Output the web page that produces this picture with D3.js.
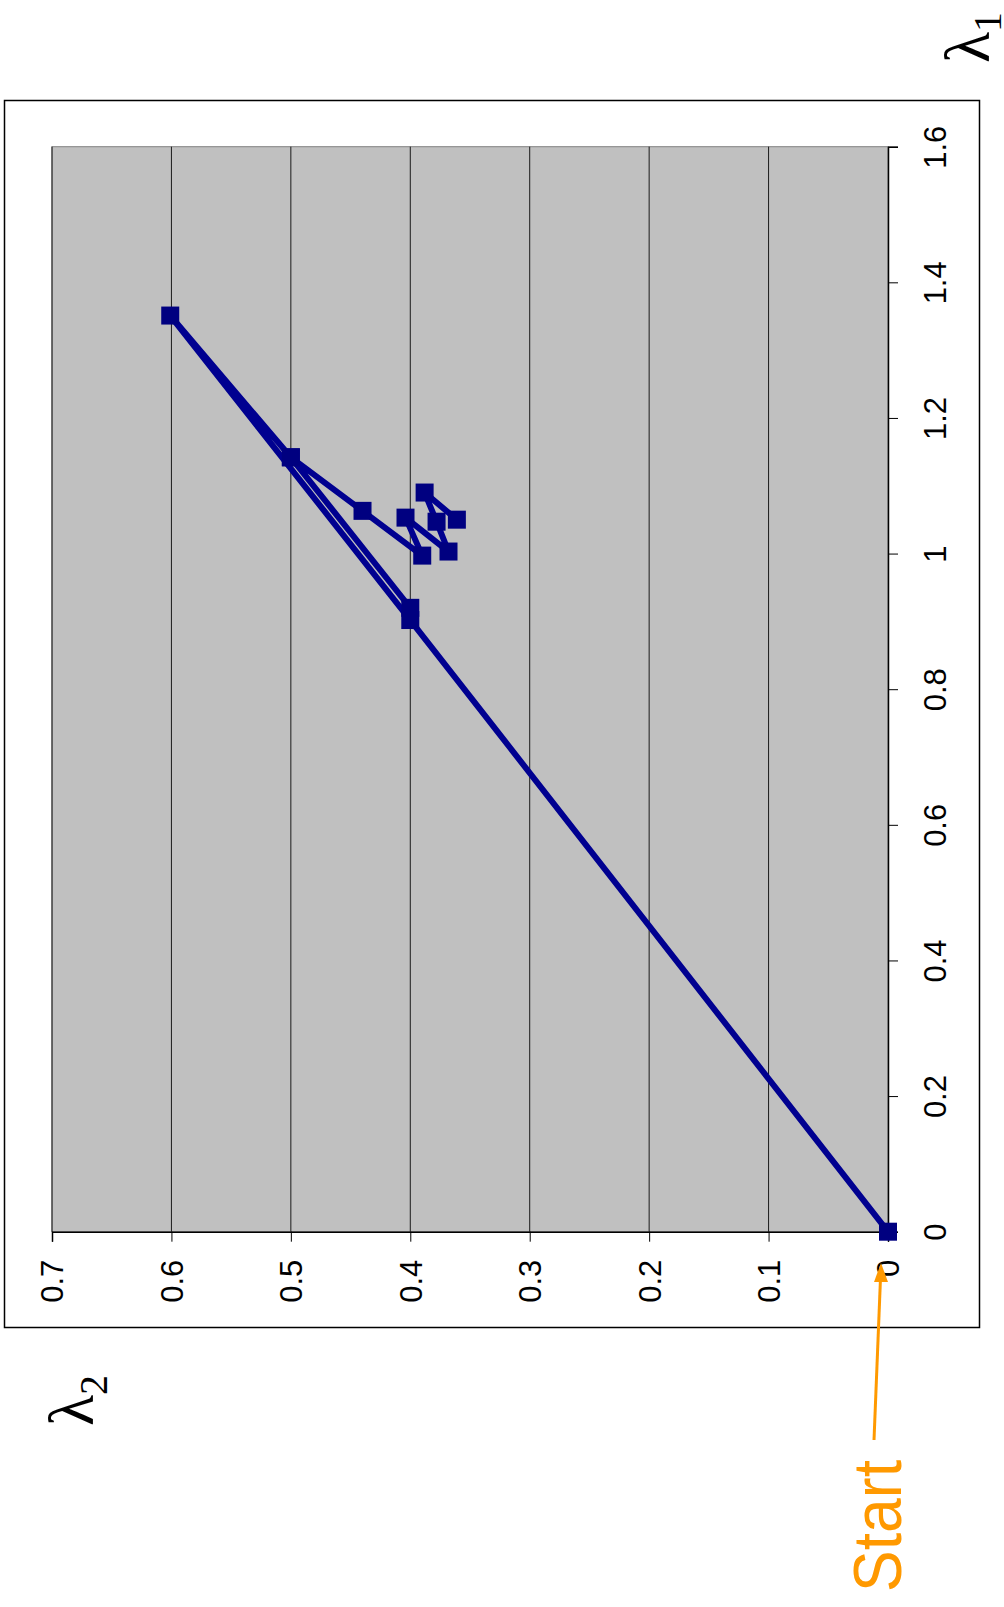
<!doctype html>
<html>
  <head>
    <script src="https://cdnjs.cloudflare.com/ajax/libs/d3/7.8.5/d3.min.js"></script>
    <style>
      body { margin: 0; background: #fff; }
    </style>
  </head>
  <body>
    <svg style="height: 1607px; width: 1004px;"></svg>
    <script>
        // iteration path, lambda1 (horizontal in the original chart) and lambda2
        var lambda1 = [0, 0.902, 1.351, 1.142, 0.920, 1.142, 1.063, 0.997, 1.053, 1.003, 1.047, 1.090, 1.050];
        var lambda2 = [0, 0.400, 0.601, 0.500, 0.400, 0.500, 0.440, 0.390, 0.404, 0.368, 0.378, 0.388, 0.361];
        var lambda1Ticks = [0, 0.2, 0.4, 0.6, 0.8, 1, 1.2, 1.4, 1.6];
        var lambda2Ticks = [0, 0.1, 0.2, 0.3, 0.4, 0.5, 0.6, 0.7];

        var points = lambda1.map((v, i) => ({l1: v, l2: lambda2[i]}));

        var svg = d3.select("svg");

        // the whole chart is turned a quarter turn: lambda1 runs up the page, lambda2 runs to the left
        var yScale = d3.scaleLinear().domain([0, 1.6]).range([1231.7, 146.7]);
        var xScale = d3.scaleLinear().domain([0, 0.7]).range([888, 52]);

        // outer chart frame
        svg.append("rect")
            .attr("x", 4.5).attr("y", 100.5)
            .attr("width", 975).attr("height", 1227)
            .style("fill", "#fff").style("stroke", "#000").style("stroke-width", "1.5px");

        // plot area
        svg.append("rect")
            .attr("x", xScale(0.7)).attr("y", yScale(1.6))
            .attr("width", xScale(0) - xScale(0.7)).attr("height", yScale(0) - yScale(1.6))
            .style("fill", "#c0c0c0").style("stroke", "#808080").style("stroke-width", "1px");

        // grid lines at lambda2 values
        svg.append("g").selectAll("line")
            .data(lambda2Ticks.slice(1))
            .enter().append("line")
            .attr("x1", d => xScale(d)).attr("x2", d => xScale(d))
            .attr("y1", yScale(1.6)).attr("y2", yScale(0))
            .style("stroke", "#1a1a1a").style("stroke-width", "1px");

        // lambda1 axis (right side)
        var l1Axis = d3.axisRight(yScale).tickValues(lambda1Ticks).tickSize(10).tickFormat(d3.format("~g"));
        var g1 = svg.append("g").attr("transform", "translate(888,0)").call(l1Axis);
        g1.select(".domain").style("stroke", "#000").style("stroke-width", "1.5px");
        g1.selectAll(".tick line").style("stroke", "#000");
        g1.selectAll(".tick text")
            .attr("x", null).attr("y", null).attr("dy", "0.35em")
            .attr("transform", "translate(47,0) rotate(-90)")
            .style("text-anchor", "middle")
            .style("font-family", "Arial, 'Liberation Sans', sans-serif")
            .style("font-size", "31px").style("fill", "#000");

        // lambda2 axis (bottom)
        var l2Axis = d3.axisBottom(xScale).tickValues(lambda2Ticks).tickSize(10).tickFormat(d3.format("~g"));
        var g2 = svg.append("g").attr("transform", "translate(0,1231.7)").call(l2Axis);
        g2.select(".domain").style("stroke", "#000").style("stroke-width", "1.5px");
        g2.selectAll(".tick line").style("stroke", "#000");
        g2.selectAll(".tick text")
            .attr("x", null).attr("y", null).attr("dy", "0.35em")
            .attr("transform", "translate(0,28) rotate(-90)")
            .style("text-anchor", "end")
            .style("font-family", "Arial, 'Liberation Sans', sans-serif")
            .style("font-size", "31px").style("fill", "#000");

        // path
        var dataLine = d3.line().x(d => xScale(d.l2)).y(d => yScale(d.l1));
        svg.append("path")
            .attr("d", dataLine(points))
            .style("fill", "none")
            .style("stroke", "#000090")
            .style("stroke-width", "6px")
            .style("stroke-linejoin", "round");

        svg.append("g").selectAll("rect")
            .data(points)
            .enter().append("rect")
            .attr("x", d => xScale(d.l2) - 9)
            .attr("y", d => yScale(d.l1) - 9)
            .attr("width", 18).attr("height", 18)
            .style("fill", "#000080");

        // axis titles
        var t1 = svg.append("text")
            .attr("transform", "translate(989,63) rotate(-90)")
            .style("font-family", "'Liberation Serif', 'Times New Roman', serif")
            .style("font-size", "64px");
        t1.append("tspan").text("λ");
        t1.append("tspan").attr("dy", "12").style("font-size", "40px").text("1");

        var t2 = svg.append("text")
            .attr("transform", "translate(93,1426) rotate(-90)")
            .style("font-family", "'Liberation Serif', 'Times New Roman', serif")
            .style("font-size", "64px");
        t2.append("tspan").text("λ");
        t2.append("tspan").attr("dy", "14").style("font-size", "40px").text("2");

        // start annotation
        svg.append("line")
            .attr("x1", 874).attr("y1", 1440)
            .attr("x2", 880.5).attr("y2", 1278)
            .style("stroke", "#ff9900").style("stroke-width", "3px");
        svg.append("path")
            .attr("d", "M881,1263 L888,1282 L874,1282 Z")
            .style("fill", "#ff9900");
        svg.append("text")
            .attr("transform", "translate(901,1592) rotate(-90)")
            .attr("textLength", 132).attr("lengthAdjust", "spacingAndGlyphs")
            .style("font-family", "Arial, 'Liberation Sans', sans-serif")
            .style("font-size", "68px").style("fill", "#ff9900")
            .text("Start");
    </script>
  </body>
</html>
